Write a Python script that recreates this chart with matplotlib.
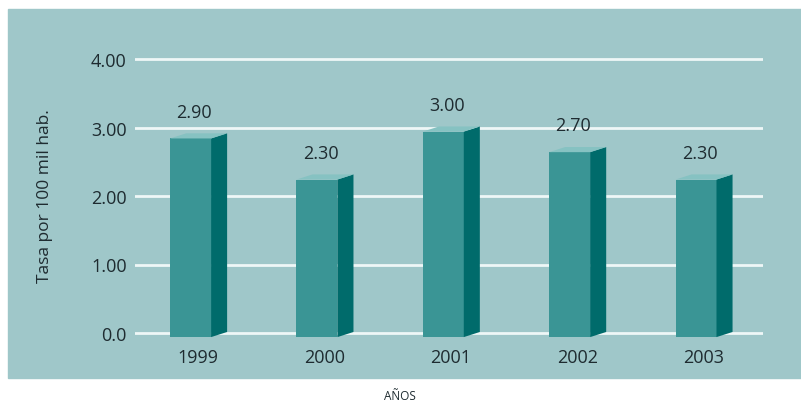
import numpy as np
import matplotlib.pyplot as plt
from matplotlib.patches import Rectangle, Polygon

# data
years = ['1999', '2000', '2001', '2002', '2003']
rates = [2.90, 2.30, 3.00, 2.70, 2.30]
value_labels = ['2.90', '2.30', '3.00', '2.70', '2.30']
yticks = [0.0, 1.0, 2.0, 3.0, 4.0]
ytick_labels = ['0.0', '1.00', '2.00', '3.00', '4.00']

bg = '#9fc7c9'
front = '#3a9595'
side = '#006b6b'
top = '#86c2c2'
txt = '#1e2b30'

plt.rcParams['font.family'] = ['Open Sans', 'DejaVu Sans']

fig = plt.figure(figsize=(8.01, 4.06), dpi=100)
W, H = 801, 406

# panel background
fig.patches.append(Rectangle((8 / W, 1 - 379 / H), (801 - 8) / W, (379 - 10) / H,
                             transform=fig.transFigure, color=bg, zorder=-10))

# axes placed so gridlines span the same pixels as the reference
y0, y4 = 334, 60
ppu = (y0 - y4) / 4.0
ybot, ytop = 345, 50
ax = fig.add_axes([135 / W, 1 - ybot / H, (763 - 135) / W, (ybot - ytop) / H])
ax.set_ylim((y0 - ybot) / ppu, (y0 - ytop) / ppu)
ax.set_xlim(-0.44, 4.53)
ax.patch.set_alpha(0)
for s in ax.spines.values():
    s.set_visible(False)

for v in yticks:
    ax.axhline(v, color='#eef7f7', lw=2, zorder=1)

x = np.arange(len(years))
bw = 0.324
dx = 0.127
dy = 0.075
shift = 0.06
for xi, v, lab in zip(x, rates, value_labels):
    l = xi - bw / 2
    r = xi + bw / 2
    b = -shift
    t = v - shift
    ax.add_patch(Rectangle((l, b), bw, t - b, color=front, zorder=3, lw=0))
    ax.add_patch(Polygon([(r, b), (r + dx, b + dy), (r + dx, t + dy), (r, t)],
                         closed=True, color=side, zorder=3, lw=0))
    ax.add_patch(Polygon([(l, t), (r, t), (r + dx, t + dy), (l + dx, t + dy)],
                         closed=True, color=top, zorder=3, lw=0))
    ax.text(xi + 0.03, v + 0.33, lab, ha='center', va='center',
            fontsize=13, color=txt, zorder=4)

ax.set_yticks(yticks)
ax.set_yticklabels(ytick_labels, fontsize=13, color=txt)
ax.set_xticks(x + 0.06)
ax.set_xticklabels(years, fontsize=13, color=txt)
ax.tick_params(axis='y', length=0, pad=6)
ax.tick_params(axis='x', length=0, pad=3)

fig.text(45 / W, 1 - 196 / H, 'Tasa por 100 mil hab.', rotation=90,
         ha='center', va='center', fontsize=12.5, color=txt)
fig.text(400 / W, 1 - 397 / H, 'AÑOS', ha='center', va='center',
         fontsize=8.5, color=txt)

fig.savefig('out.png', dpi=100, facecolor='white')
